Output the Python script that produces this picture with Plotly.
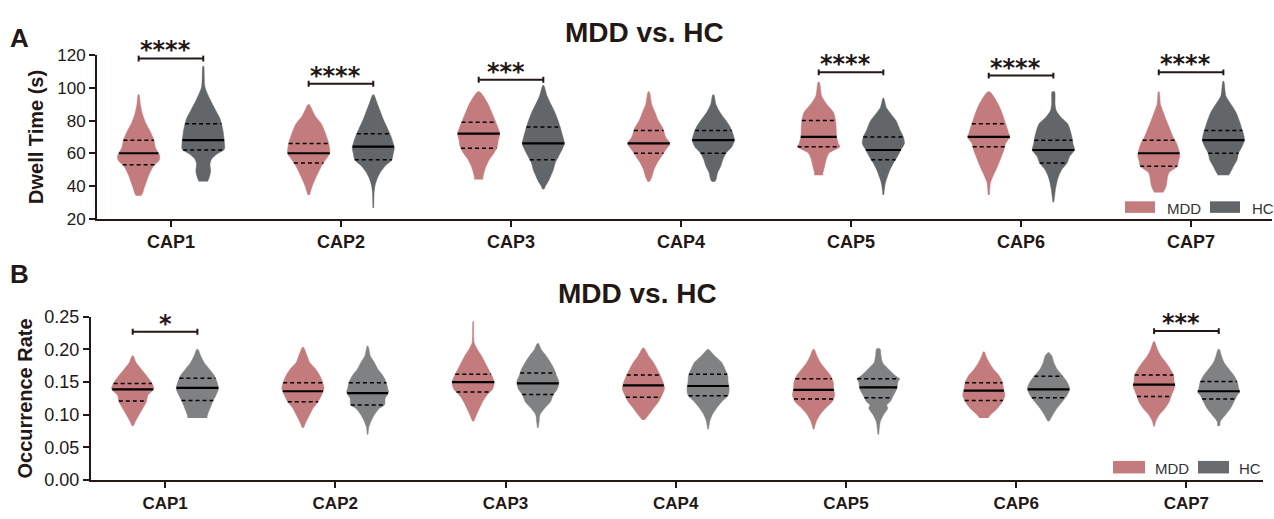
import numpy as np
import plotly.graph_objects as go

caps = ["CAP1", "CAP2", "CAP3", "CAP4", "CAP5", "CAP6", "CAP7"]

# ---------- Panel A: Dwell time (s) ----------
dwell_mdd_y = [
    [34, 36, 38, 42, 46.6, 52.5, 55.5, 58.4, 63.3, 68.2, 73, 79, 85, 90, 95.9],
    [34.5, 37, 40, 44, 48, 52, 56, 60, 66, 72, 78, 83, 89.8],
    [44, 45, 48, 52, 56, 60, 64, 68, 72, 75, 80, 85, 90, 95, 97.6],
    [42.5, 46, 50, 54, 58, 62, 66, 70, 75, 80, 85, 90, 97.6],
    [46.5, 48, 52, 56, 60, 64, 66, 70, 75, 80, 85, 90, 95, 103.5],
    [34.5, 38, 42, 46, 50, 54, 58, 62, 66, 70, 72, 75, 80, 85, 90, 95, 97.6],
    [36, 37, 40, 44, 48, 52, 55, 59, 62, 66, 70, 75, 80, 85, 90, 97.6],
]
dwell_mdd_w = [
    [0.12, 0.2, 0.24, 0.35, 0.48, 0.72, 0.97, 1.0, 0.8, 0.72, 0.56, 0.32, 0.16, 0.08, 0.02],
    [0.04, 0.1, 0.17, 0.3, 0.45, 0.6, 0.8, 1.0, 0.95, 0.8, 0.6, 0.3, 0.03],
    [0.2, 0.2, 0.25, 0.35, 0.5, 0.72, 0.88, 0.93, 1.0, 0.93, 0.78, 0.62, 0.45, 0.22, 0.05],
    [0.04, 0.16, 0.25, 0.4, 0.6, 0.8, 1.0, 0.8, 0.68, 0.45, 0.3, 0.14, 0.03],
    [0.2, 0.2, 0.28, 0.35, 0.48, 1.0, 0.93, 0.85, 0.83, 0.8, 0.7, 0.38, 0.14, 0.03],
    [0.03, 0.05, 0.08, 0.2, 0.35, 0.48, 0.6, 0.72, 0.8, 1.0, 0.95, 0.88, 0.75, 0.62, 0.45, 0.22, 0.05],
    [0.2, 0.25, 0.35, 0.4, 0.48, 0.88, 0.93, 1.0, 0.95, 0.85, 0.68, 0.52, 0.36, 0.22, 0.08, 0.02],
]
dwell_mdd_q = [(53, 60, 68), (54, 60, 66), (63, 72, 79), (60, 66, 74),
               (64, 70, 80), (64, 70, 78), (52, 60, 68)]

dwell_hc_y = [
    [42.7, 44, 46, 49, 53.5, 56.5, 59.5, 62.4, 67, 75, 81, 87, 93, 100.6, 113.3],
    [26.5, 36, 40, 44, 48, 52, 56, 60, 63, 66, 70, 75, 80, 85, 90, 95.7],
    [38, 40, 42, 46, 50, 54, 58, 62, 66, 70, 76, 80, 85, 90, 95, 101.6],
    [42.5, 44, 48, 52, 56, 60, 64, 68, 72, 76, 80, 85, 90, 95.7],
    [34.5, 38, 42, 46, 50, 54, 58, 62, 66, 70, 74, 80, 84, 88, 93.7],
    [30, 34, 38, 42, 46, 50, 54, 58, 62, 66, 70, 74, 78, 82, 86, 90, 97.6],
    [46.5, 48, 52, 56, 60, 64, 68, 72, 76, 80, 85, 90, 95, 104],
]
dwell_hc_w = [
    [0.2, 0.25, 0.3, 0.35, 0.32, 0.4, 0.65, 1.0, 1.0, 0.92, 0.8, 0.56, 0.32, 0.08, 0.02],
    [0.02, 0.04, 0.08, 0.17, 0.32, 0.55, 0.88, 0.95, 1.0, 0.95, 0.85, 0.68, 0.5, 0.35, 0.2, 0.03],
    [0.04, 0.1, 0.2, 0.35, 0.48, 0.56, 0.72, 0.88, 1.0, 0.93, 0.8, 0.7, 0.55, 0.36, 0.18, 0.02],
    [0.05, 0.13, 0.2, 0.35, 0.45, 0.6, 0.88, 1.0, 0.93, 0.8, 0.6, 0.32, 0.12, 0.03],
    [0.02, 0.05, 0.1, 0.2, 0.32, 0.48, 0.67, 0.83, 1.0, 0.95, 0.8, 0.6, 0.36, 0.14, 0.02],
    [0.02, 0.06, 0.1, 0.16, 0.25, 0.4, 0.65, 0.77, 1.0, 0.93, 0.88, 0.8, 0.68, 0.36, 0.14, 0.08, 0.06],
    [0.25, 0.32, 0.48, 0.65, 0.72, 0.88, 1.0, 0.95, 0.85, 0.75, 0.6, 0.36, 0.12, 0.02],
]
dwell_hc_q = [(62, 68, 78), (56, 64, 72), (56, 66, 76), (60, 68, 74),
              (56, 62, 70), (54, 62, 68), (60, 68, 74)]

dwell_sig_caps = [1, 2, 3, 5, 6, 7]
dwell_sig_y = [118, 102.5, 105, 109.5, 107.5, 109.5]
dwell_sig_txt = ["****", "****", "***", "****", "****", "****"]

# ---------- Panel B: Occurrence rate ----------
occ_mdd_y = [
    [0.083, 0.09, 0.10, 0.11, 0.12, 0.13, 0.14, 0.15, 0.16, 0.17, 0.18, 0.19],
    [0.08, 0.09, 0.10, 0.11, 0.12, 0.13, 0.14, 0.15, 0.16, 0.17, 0.18, 0.19, 0.203],
    [0.09, 0.10, 0.11, 0.12, 0.13, 0.14, 0.15, 0.16, 0.17, 0.18, 0.19, 0.20, 0.21, 0.243],
    [0.092, 0.10, 0.11, 0.12, 0.13, 0.14, 0.15, 0.16, 0.17, 0.18, 0.19, 0.202],
    [0.078, 0.09, 0.10, 0.11, 0.12, 0.13, 0.14, 0.15, 0.16, 0.17, 0.18, 0.19, 0.20],
    [0.095, 0.10, 0.11, 0.12, 0.13, 0.14, 0.15, 0.16, 0.17, 0.18, 0.19, 0.196],
    [0.082, 0.09, 0.10, 0.11, 0.12, 0.13, 0.145, 0.15, 0.16, 0.17, 0.18, 0.19, 0.20, 0.212],
]
occ_mdd_w = [
    [0.03, 0.13, 0.3, 0.48, 0.65, 0.72, 1.0, 0.88, 0.65, 0.4, 0.16, 0.03],
    [0.03, 0.16, 0.32, 0.48, 0.72, 0.88, 1.0, 0.93, 0.8, 0.6, 0.32, 0.2, 0.03],
    [0.03, 0.16, 0.3, 0.45, 0.65, 0.93, 1.0, 0.88, 0.72, 0.56, 0.4, 0.2, 0.05, 0.01],
    [0.05, 0.25, 0.48, 0.72, 0.88, 1.0, 0.93, 0.8, 0.65, 0.48, 0.25, 0.03],
    [0.02, 0.13, 0.3, 0.56, 0.88, 1.0, 0.95, 0.93, 0.8, 0.56, 0.32, 0.16, 0.03],
    [0.2, 0.32, 0.65, 0.88, 1.0, 0.93, 0.88, 0.72, 0.45, 0.25, 0.1, 0.03],
    [0.02, 0.08, 0.25, 0.52, 0.72, 0.83, 1.0, 0.95, 0.93, 0.77, 0.56, 0.32, 0.16, 0.02],
]
occ_mdd_q = [(0.121, 0.139, 0.148), (0.12, 0.136, 0.149), (0.135, 0.150, 0.162),
             (0.127, 0.145, 0.161), (0.124, 0.138, 0.155), (0.122, 0.137, 0.149),
             (0.128, 0.146, 0.161)]

occ_hc_y = [
    [0.095, 0.10, 0.11, 0.12, 0.13, 0.14, 0.15, 0.16, 0.17, 0.18, 0.19, 0.20],
    [0.07, 0.08, 0.09, 0.10, 0.11, 0.115, 0.125, 0.135, 0.14, 0.15, 0.16, 0.17, 0.18, 0.19, 0.205],
    [0.08, 0.09, 0.10, 0.11, 0.12, 0.13, 0.14, 0.15, 0.16, 0.17, 0.18, 0.19, 0.20, 0.209],
    [0.078, 0.09, 0.10, 0.11, 0.12, 0.13, 0.14, 0.15, 0.16, 0.17, 0.18, 0.19, 0.20],
    [0.07, 0.08, 0.09, 0.10, 0.11, 0.115, 0.12, 0.13, 0.14, 0.15, 0.155, 0.16, 0.17, 0.18, 0.19, 0.201],
    [0.09, 0.10, 0.11, 0.12, 0.13, 0.14, 0.15, 0.16, 0.17, 0.18, 0.19, 0.195],
    [0.083, 0.09, 0.10, 0.11, 0.12, 0.13, 0.135, 0.14, 0.15, 0.16, 0.17, 0.18, 0.19, 0.20],
]
occ_hc_w = [
    [0.45, 0.48, 0.6, 0.72, 0.88, 1.0, 0.93, 0.8, 0.56, 0.32, 0.16, 0.03],
    [0.02, 0.05, 0.16, 0.32, 0.56, 0.8, 0.83, 1.0, 0.95, 0.88, 0.72, 0.48, 0.32, 0.13, 0.02],
    [0.02, 0.06, 0.1, 0.32, 0.6, 0.72, 0.93, 1.0, 0.88, 0.77, 0.6, 0.4, 0.16, 0.03],
    [0.02, 0.08, 0.2, 0.4, 0.65, 0.95, 1.0, 0.95, 0.93, 0.8, 0.65, 0.32, 0.03],
    [0.02, 0.05, 0.1, 0.25, 0.45, 0.4, 0.56, 0.72, 0.88, 0.93, 1.0, 0.8, 0.48, 0.2, 0.13, 0.08],
    [0.03, 0.2, 0.4, 0.65, 0.88, 1.0, 0.88, 0.65, 0.4, 0.25, 0.16, 0.03],
    [0.05, 0.08, 0.32, 0.56, 0.72, 0.88, 1.0, 0.95, 0.88, 0.72, 0.48, 0.25, 0.13, 0.03],
]
occ_hc_q = [(0.122, 0.141, 0.156), (0.115, 0.133, 0.149), (0.131, 0.148, 0.164),
            (0.129, 0.144, 0.162), (0.126, 0.142, 0.155), (0.126, 0.139, 0.159),
            (0.124, 0.136, 0.151)]

occ_sig_caps = [1, 7]
occ_sig_y = [0.227, 0.228]
occ_sig_txt = ["*", "***"]

# ---------- styling ----------
W, H = 1274, 519
PINK = "rgb(196,123,125)"
GRAY_A = "rgb(99,102,104)"
GRAY_B = "rgb(128,129,131)"
TXT = "#231815"
FONT = "Liberation Sans, Arial, sans-serif"
STAR_FONT = "DejaVu Sans, sans-serif"
OFF = 0.19      # group offset (x units)
HW = 0.124      # max violin half width (x units)

fig = go.Figure()


def add_violins(xa, ya, ys, ws, qs, offset, color):
    med_x, med_y, q_x, q_y = [], [], [], []
    for i, (yy, ww, q) in enumerate(zip(ys, ws, qs)):
        c = i + 1 + offset
        yy = np.asarray(yy, float)
        ww = np.asarray(ww, float) * HW
        xs = list(c + ww) + list((c - ww)[::-1])
        ysp = list(yy) + list(yy[::-1])
        fig.add_trace(go.Scatter(x=xs, y=ysp, xaxis=xa, yaxis=ya, mode="lines",
                                 fill="toself", fillcolor=color,
                                 line=dict(color=color, width=0.5, shape="spline", smoothing=0.7),
                                 hoverinfo="skip", showlegend=False))
        for k, v in enumerate(q):
            w = float(np.interp(v, yy, ww))
            if k == 1:
                med_x += [c - w, c + w, None]
                med_y += [v, v, None]
            else:
                q_x += [c - w, c + w, None]
                q_y += [v, v, None]
    fig.add_trace(go.Scatter(x=med_x, y=med_y, xaxis=xa, yaxis=ya, mode="lines",
                             line=dict(color="black", width=2.2), hoverinfo="skip", showlegend=False))
    fig.add_trace(go.Scatter(x=q_x, y=q_y, xaxis=xa, yaxis=ya, mode="lines",
                             line=dict(color="black", width=1.5, dash="4px,3px"),
                             hoverinfo="skip", showlegend=False))


def add_sig(xa, ya, capsi, ys, txts, cap_h):
    bx, by = [], []
    for ci, yv, t in zip(capsi, ys, txts):
        a, b = ci - OFF, ci + OFF
        bx += [a, a, a, b, b, b, None]
        by += [yv - cap_h, yv + cap_h, yv, yv, yv + cap_h, yv - cap_h, None]
        dx = -0.03 if len(t) > 1 else 0.0
        fig.add_annotation(x=ci + dx, y=yv, xref=xa, yref=ya, text="<b>" + t + "</b>",
                           showarrow=False, yanchor="bottom", yshift=-8,
                           font=dict(family=STAR_FONT, size=24, color=TXT))
    fig.add_trace(go.Scatter(x=bx, y=by, xaxis=xa, yaxis=ya, mode="lines",
                             line=dict(color=TXT, width=2), hoverinfo="skip", showlegend=False))


add_violins("x", "y", dwell_mdd_y, dwell_mdd_w, dwell_mdd_q, -OFF, PINK)
add_violins("x", "y", dwell_hc_y, dwell_hc_w, dwell_hc_q, OFF, GRAY_A)
add_violins("x2", "y2", occ_mdd_y, occ_mdd_w, occ_mdd_q, -OFF, PINK)
add_violins("x2", "y2", occ_hc_y, occ_hc_w, occ_hc_q, OFF, GRAY_B)
add_sig("x", "y", dwell_sig_caps, dwell_sig_y, dwell_sig_txt, 1.8)
add_sig("x2", "y2", occ_sig_caps, occ_sig_y, occ_sig_txt, 0.0045)


def px(x):
    return x / W


def py(y):
    return 1 - y / H


axis_common = dict(showline=True, linecolor=TXT, linewidth=2, ticks="outside",
                   ticklen=6, tickwidth=2, tickcolor=TXT, showgrid=False, zeroline=False)

fig.update_layout(
    width=W, height=H, margin=dict(l=0, r=0, t=0, b=0),
    paper_bgcolor="white", plot_bgcolor="white", showlegend=False,
    font=dict(family=FONT, color=TXT),
    xaxis=dict(domain=[px(97), px(1272)], range=[0.565, 7.476], anchor="y",
               tickvals=list(range(1, 8)), ticktext=[f"<b>{c}</b>" for c in caps],
               tickfont=dict(size=18, color=TXT), **axis_common),
    yaxis=dict(domain=[py(217), py(47)], range=[20, 120], anchor="x", dtick=20,
               tickfont=dict(size=17, color=TXT),
               title=dict(text="<b>Dwell Time (s)</b>", font=dict(size=20, color=TXT), standoff=8),
               **axis_common),
    xaxis2=dict(domain=[px(91), px(1263)], range=[0.565, 7.45], anchor="y2",
                tickvals=list(range(1, 8)), ticktext=[f"<b>{c}</b>" for c in caps],
                tickfont=dict(size=17, color=TXT), **axis_common),
    yaxis2=dict(domain=[py(489), py(319)], range=[0, 0.25], anchor="x2", dtick=0.05,
                tickformat=".2f", tickfont=dict(size=18, color=TXT),
                title=dict(text="<b>Occurrence Rate</b>", font=dict(size=20, color=TXT), standoff=6),
                **axis_common),
)

# titles and panel letters
for txt, x, y, size in [("<b>MDD vs. HC</b>", 644, 23, 28), ("<b>MDD vs. HC</b>", 638, 295, 28),
                        ("<b>A</b>", 19, 29, 26), ("<b>B</b>", 19, 275, 26)]:
    fig.add_annotation(x=px(x), y=py(y), xref="paper", yref="paper", text=txt, showarrow=False,
                       xanchor="center", yanchor="middle", font=dict(family=FONT, size=size, color=TXT))

# legends (swatch + label)
legend_items = [
    (1125, 1155, 199, 211, PINK, "MDD", 1165),
    (1210, 1240, 199, 211, GRAY_A, "HC", 1250),
    (1113, 1145, 469, 482, PINK, "MDD", 1153),
    (1198, 1229, 469, 482, "rgb(105,108,110)", "HC", 1237),
]
for x0, x1, y0, y1, col, lab, tx in legend_items:
    fig.add_shape(type="rect", xref="paper", yref="paper", x0=px(x0), x1=px(x1),
                  y0=py(y1), y1=py(y0), fillcolor=col, line=dict(width=0))
    fig.add_annotation(x=px(tx), y=py((y0 + y1) / 2 + 1), xref="paper", yref="paper", text=lab,
                       showarrow=False, xanchor="left", yanchor="middle",
                       font=dict(family=FONT, size=15, color="#333333"))

fig.write_html("out.html", config={"displayModeBar": False},
               post_script="document.body.style.margin='0';document.body.style.overflow='hidden';")
